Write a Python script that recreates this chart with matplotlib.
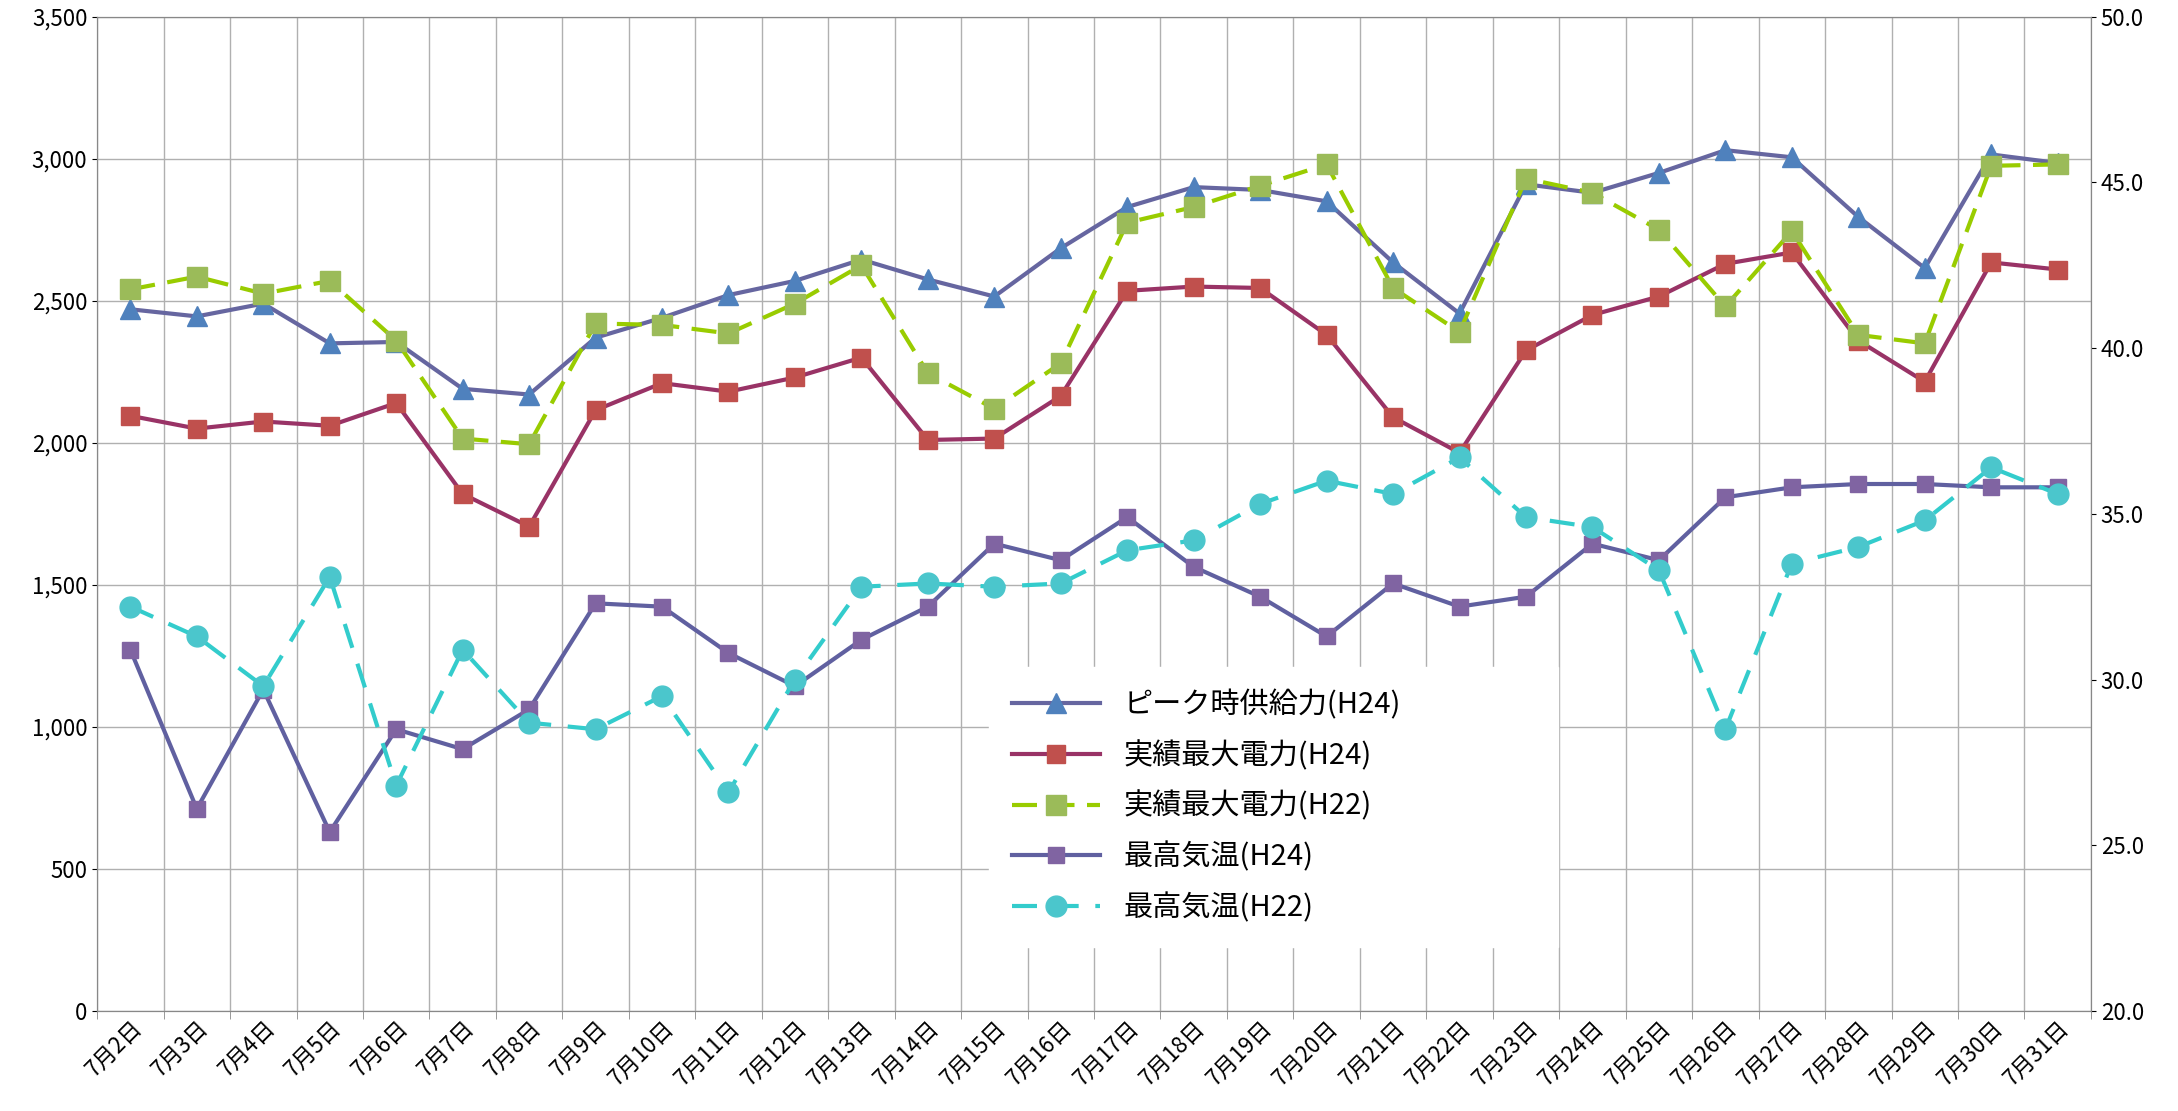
import matplotlib
matplotlib.use("Agg")
import matplotlib.pyplot as plt
import numpy as np

plt.rcParams['font.family'] = ['Noto Sans CJK JP', 'DejaVu Sans']

days = [f"7月{d}日" for d in range(2, 32)]

peak_supply_h24 = [2470, 2445, 2490, 2350, 2355, 2190, 2170, 2370, 2440, 2520, 2570, 2645, 2575, 2515, 2685,
                   2830, 2900, 2890, 2850, 2635, 2455, 2910, 2880, 2950, 3030, 3005, 2795, 2615, 3015, 2985]
max_power_h24 = [2095, 2050, 2075, 2060, 2140, 1820, 1705, 2115, 2210, 2180, 2230, 2300, 2010, 2015, 2165,
                 2535, 2550, 2545, 2380, 2090, 1965, 2325, 2450, 2515, 2630, 2670, 2360, 2215, 2635, 2610]
max_power_h22 = [2540, 2585, 2525, 2570, 2360, 2015, 1995, 2420, 2415, 2385, 2490, 2625, 2245, 2120, 2280,
                 2775, 2830, 2905, 2980, 2545, 2390, 2930, 2880, 2750, 2480, 2745, 2380, 2350, 2975, 2980]
temp_h24 = [30.9, 26.1, 29.7, 25.4, 28.5, 27.9, 29.1, 32.3, 32.2, 30.8, 29.8, 31.2, 32.2, 34.1, 33.6,
            34.9, 33.4, 32.5, 31.3, 32.9, 32.2, 32.5, 34.1, 33.6, 35.5, 35.8, 35.9, 35.9, 35.8, 35.8]
temp_h22 = [32.2, 31.3, 29.8, 33.1, 26.8, 30.9, 28.7, 28.5, 29.5, 26.6, 30.0, 32.8, 32.9, 32.8, 32.9,
            33.9, 34.2, 35.3, 36.0, 35.6, 36.7, 34.9, 34.6, 33.3, 28.5, 33.5, 34.0, 34.8, 36.4, 35.6]

x = np.arange(len(days))
fig = plt.figure(figsize=(21.78, 11.11), dpi=100)
ax = fig.add_axes([0.0446, 0.09, 0.9154, 0.895])
ax2 = ax.twinx()

ax.set_xlim(-0.5, len(days) - 0.5)
ax.set_ylim(0, 3500)
ax.set_yticks(range(0, 3501, 500))
ax.set_yticklabels([f"{v:,}" for v in range(0, 3501, 500)], fontsize=16)
ax2.set_ylim(20, 50)
ax2.set_yticks(range(20, 51, 5))
ax2.set_yticklabels([f"{v:.1f}" for v in range(20, 51, 5)], fontsize=16)
ax.set_xticks(x)
ax.set_xticklabels(days, rotation=45, ha='right', rotation_mode='anchor', fontsize=16)
ax.set_xticks(np.arange(-0.5, len(days), 1), minor=True)
ax.tick_params(axis='x', which='major', length=0)
ax.tick_params(axis='x', which='minor', length=6, color='#888888')
ax.grid(axis='x', which='minor', color='#B0B0B0', lw=1)
ax.grid(axis='y', which='major', color='#B0B0B0', lw=1)
ax.set_axisbelow(True)
for a in (ax, ax2):
    for s in a.spines.values():
        s.set_color('#888888')

l1, = ax.plot(x, peak_supply_h24, '-', color='#6666A0', lw=3, marker='^', ms=14,
              mfc='#4F81BD', mec='#4F81BD', label='ピーク時供給力(H24)')
l2, = ax.plot(x, max_power_h24, '-', color='#993366', lw=3, marker='s', ms=13,
              mfc='#C0504D', mec='#C0504D', label='実績最大電力(H24)')
l3, = ax.plot(x, max_power_h22, '--', color='#99CC00', lw=3, dashes=(6, 3), marker='s', ms=15,
              mfc='#9BBB59', mec='#9BBB59', label='実績最大電力(H22)')
l4, = ax2.plot(x, temp_h24, '-', color='#6060A0', lw=3, marker='s', ms=11,
               mfc='#8064A2', mec='#8064A2', label='最高気温(H24)')
l5, = ax2.plot(x, temp_h22, '--', color='#33CCCC', lw=3, dashes=(6, 4), marker='o', ms=15,
               mfc='#4BC6CC', mec='#4BC6CC', label='最高気温(H22)')

leg = ax2.legend(handles=[l1, l2, l3, l4, l5], loc='lower left', bbox_to_anchor=(0.44, 0.05, 0.3, 0.3),
                 mode='expand', fontsize=21, frameon=True, fancybox=False, edgecolor='white',
                 framealpha=1, labelspacing=0.7, handlelength=3, borderpad=0.8)

fig.savefig("out.png", dpi=100)
